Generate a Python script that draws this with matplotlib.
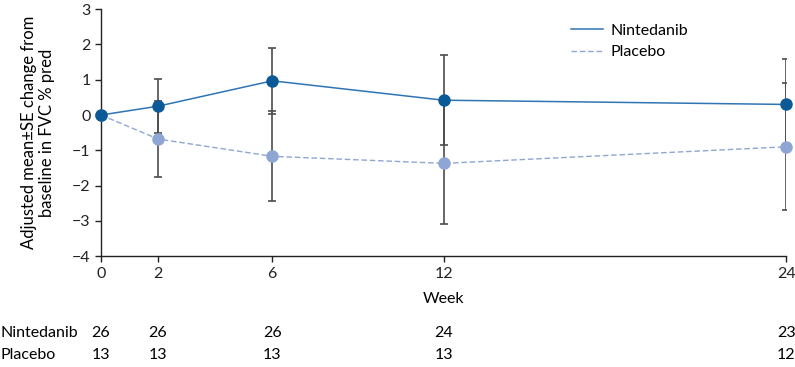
import numpy as np
import matplotlib.pyplot as plt

plt.rcParams['font.family'] = ['Lato', 'DejaVu Sans']

weeks = [0, 2, 6, 12, 24]
nint_mean = [0.0, 0.25, 0.97, 0.42, 0.30]
nint_se = [0.0, 0.77, 0.93, 1.28, 1.30]
plac_mean = [0.0, -0.68, -1.17, -1.37, -0.90]
plac_se = [0.0, 1.08, 1.28, 1.73, 1.80]
n_nint = [26, 26, 26, 24, 23]
n_plac = [13, 13, 13, 13, 12]

c_nint = '#0b5a97'
c_nint_line = '#2f74b5'
c_plac = '#8ea6d4'
c_err = '#4d4d4d'
fs = 11.5

fig = plt.figure(figsize=(7.95, 3.67), dpi=100)
ax = fig.add_axes([0.127, 0.302, 0.862, 0.673])

# error bars (skip baseline)
ax.errorbar(weeks[1:], nint_mean[1:], yerr=nint_se[1:], fmt='none',
            ecolor=c_err, elinewidth=1.2, capsize=3, capthick=1.2, zorder=2)
ax.errorbar(weeks[1:], plac_mean[1:], yerr=plac_se[1:], fmt='none',
            ecolor=c_err, elinewidth=1.2, capsize=3, capthick=1.2, zorder=2)

ax.plot(weeks, plac_mean, color=c_plac, lw=1.0, ls=(0, (4, 2)), zorder=3, label='Placebo')
ax.plot(weeks, plac_mean, 'o', color=c_plac, ms=8, zorder=4, clip_on=False)
ax.plot(weeks, nint_mean, color=c_nint_line, lw=1.1, zorder=5, label='Nintedanib')
ax.plot(weeks, nint_mean, 'o', color=c_nint, ms=8, zorder=6, clip_on=False)

ax.set_xlim(0, 24)
ax.set_ylim(-4, 3)
ax.set_xticks(weeks)
ax.set_yticks(range(-4, 4))
ax.set_yticklabels(['\u22124', '\u22123', '\u22122', '\u22121', '0', '1', '2', '3'])
ax.tick_params(labelsize=fs, length=4, width=1, colors='#222222')
for s in ['top', 'right']:
    ax.spines[s].set_visible(False)
for s in ['left', 'bottom']:
    ax.spines[s].set_linewidth(1.0)
    ax.spines[s].set_color('#222222')

ax.set_xlabel('Week', fontsize=fs, labelpad=8)
ax.set_ylabel('Adjusted mean\u00b1SE change from\nbaseline in FVC % pred', fontsize=12, labelpad=12)

h, l = ax.get_legend_handles_labels()
ax.legend([h[1], h[0]], [l[1], l[0]], loc='upper left', bbox_to_anchor=(0.665, 1.0),
          frameon=False, fontsize=fs, handlelength=2.0, handletextpad=0.5,
          labelspacing=0.45)

# numbers at risk
trans = ax.get_xaxis_transform()
for w, a, b in zip(weeks, n_nint, n_plac):
    ax.text(w, -0.312, str(a), transform=trans, ha='center', va='center', fontsize=fs, clip_on=False)
    ax.text(w, -0.401, str(b), transform=trans, ha='center', va='center', fontsize=fs, clip_on=False)
fig.text(0.0, 1 - 333 / 367, 'Nintedanib', ha='left', va='center', fontsize=fs)
fig.text(0.0, 1 - 355 / 367, 'Placebo', ha='left', va='center', fontsize=fs)

fig.savefig('out.png', dpi=100)
